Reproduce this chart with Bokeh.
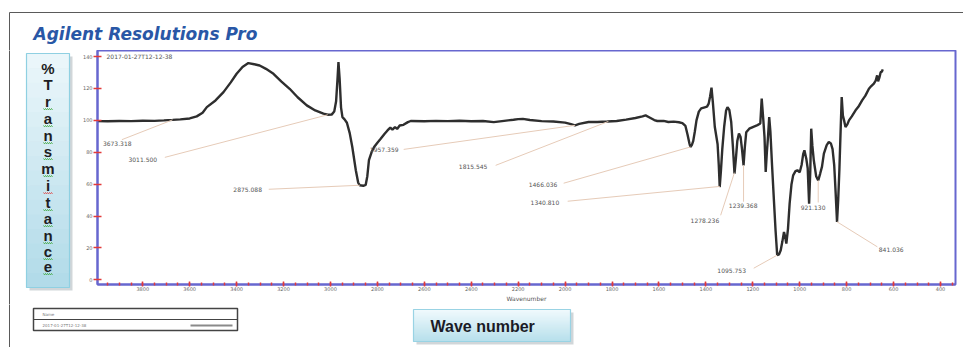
import numpy as np
from bokeh.plotting import figure
from bokeh.layouts import column, row
from bokeh.models import Range1d, Label, ColumnDataSource, FixedTicker
from bokeh.core.properties import value
from bokeh.embed import file_html
from bokeh.resources import INLINE

# FTIR spectrum: wavenumber (cm-1) and % transmittance
wavenumber = [
    3993, 3950, 3900, 3850, 3800, 3750, 3710, 3673, 3640, 3600, 3570, 3545, 3527, 3490,
    3456, 3425, 3400, 3375, 3350, 3325, 3302, 3275, 3243, 3210, 3174, 3140, 3101, 3065,
    3030, 3011.5, 2995, 2984, 2976, 2970, 2966, 2961, 2955, 2949, 2940, 2930, 2918, 2907,
    2892, 2882, 2875, 2860, 2850, 2843, 2836, 2825, 2814, 2800, 2786, 2770, 2757, 2745,
    2736, 2725, 2716, 2705, 2689, 2670, 2658, 2600, 2550, 2500, 2450, 2400, 2350, 2304,
    2260, 2220, 2200, 2180, 2150, 2100, 2050, 2000, 1975, 1957.4, 1940, 1900, 1863, 1820,
    1780, 1740, 1700, 1670, 1657, 1640, 1620, 1607, 1580, 1560, 1537, 1515, 1500, 1487,
    1478, 1470, 1466, 1460, 1454, 1447, 1440, 1430, 1420, 1405, 1395, 1388, 1382, 1376,
    1370, 1362, 1356, 1350, 1345, 1341, 1336, 1330, 1322, 1314, 1308, 1300, 1292, 1285,
    1278, 1272, 1266, 1259, 1252, 1246, 1239.4, 1234, 1228, 1215, 1200, 1180, 1168, 1162,
    1155, 1150, 1145, 1140, 1135, 1130, 1125, 1118, 1110, 1103, 1096, 1088, 1081, 1074,
    1067, 1062, 1057, 1050, 1043, 1035, 1028, 1018, 1010, 1000, 992, 985, 980, 972,
    966, 960, 955, 951, 946, 940, 930, 921.1, 913, 905, 897, 885, 876, 867,
    860, 853, 847, 841, 836, 831, 826, 821, 816, 811, 805, 797, 790, 778,
    762, 750, 734, 720, 705, 695, 684, 676, 670, 666, 660, 655, 650, 646,
]
transmittance = [
    99.5, 99.4, 99.6, 99.5, 99.8, 99.7, 100.0, 100.3, 100.6, 101.2, 102.5, 104.8, 108.3, 112.5,
    117.7, 123.8, 129.2, 133.5, 135.9, 135.2, 134.4, 132.3, 129.2, 124.5, 119.8, 114.5, 109.4, 106.2,
    104.2, 103.5, 103.6, 105.5, 112.0, 126.0, 136.5, 126.0, 108.0, 102.0, 100.6, 98.5, 92.0, 83.3,
    68.7, 61.0, 59.3, 59.0, 59.5, 65.0, 75.0, 80.0, 83.3, 86.0, 88.5, 91.5, 93.7, 95.5,
    94.2, 95.8, 94.6, 96.8, 97.2, 98.9, 99.6, 99.4, 99.7, 99.5, 99.8, 99.4, 99.6, 98.9,
    99.7, 100.4, 100.8, 100.9, 100.2, 99.5, 99.3, 98.6, 97.6, 96.9, 97.8, 99.0, 99.0, 99.3,
    99.6, 100.5, 101.5, 102.5, 103.1, 101.8, 100.2, 99.6, 99.7, 99.0, 99.2, 98.8, 98.3, 96.5,
    91.0, 85.5, 83.3, 84.5, 87.0, 93.0, 100.0, 105.5, 107.5, 108.2, 108.6, 110.5, 115.0, 120.5,
    111.0, 96.0, 90.5, 85.0, 72.0, 58.2, 68.0, 82.0, 96.0, 106.0, 108.3, 106.5, 99.0, 84.0,
    66.6, 76.0, 87.0, 91.7, 89.5, 82.0, 71.8, 83.0, 92.5, 94.8, 95.8, 97.0, 98.0, 113.6,
    100.0, 89.5, 67.6, 80.0, 90.0, 102.1, 93.0, 72.0, 50.0, 31.1, 15.5, 16.0, 18.6, 24.0,
    30.0, 27.0, 22.8, 32.0, 47.8, 60.0, 65.5, 68.2, 68.7, 67.5, 72.0, 79.0, 81.2, 76.0,
    70.0, 47.8, 68.0, 94.8, 84.0, 75.0, 65.0, 62.4, 66.5, 71.0, 79.1, 84.5, 86.4, 85.5,
    82.0, 72.0, 55.0, 36.3, 50.0, 68.7, 92.0, 114.6, 103.0, 100.0, 95.8, 97.5, 100.0, 102.5,
    106.3, 108.5, 112.5, 115.5, 119.8, 121.5, 123.0, 125.0, 128.2, 124.5, 127.0, 130.2, 130.5, 132.0,
]

# Picked peaks
peak_wavenumbers = [3673.318, 3011.500, 2875.088, 1957.359, 1815.545, 1466.036,
                    1340.810, 1278.236, 1239.368, 1095.753, 921.130, 841.036]
peak_labels = ["3673.318", "3011.500", "2875.088", "1957.359", "1815.545", "1466.036",
               "1340.810", "1278.236", "1239.368", "1095.753", "921.130", "841.036"]

x_ticks = [3800, 3600, 3400, 3200, 3000, 2800, 2600, 2400, 2200, 2000,
           1800, 1600, 1400, 1200, 1000, 800, 600, 400]
y_ticks = [0, 20, 40, 60, 80, 100, 120, 140]

# where each peak label sits, and where its leader line starts (data units)
label_x = [3970, 3861, 3414, 2832, 2453, 2155, 2147, 1465, 1302, 1351, 996, 663]
label_y = [85.6, 75.4, 56.8, 81.7, 70.8, 59.9, 48.8, 37.4, 46.8, 6.1, 45.3, 19.0]
lead_x = [3889, 3706, 3263, 2688, 2296, 2006, 1989, 1337, 1239.368, 1196, 921.130, 669]
lead_y = [87.9, 76.8, 56.8, 81.8, 71.8, 60.6, 49.3, 40.5, 49.0, 7.3, 48.5, 20.7]

W, H = 963, 347
TOP_H = 50          # strip holding the heading
LEFT_W = 79         # strip holding the vertical caption
MID_H = 254         # height of the spectrum panel
BOT_H = H - TOP_H - MID_H
BLUE = "#6767cf"
RED = "#e23a3a"


# ---------------------------------------------------------------- spectrum panel
p = figure(width=W - LEFT_W, height=MID_H, x_range=Range1d(3993, 336),
           y_range=Range1d(-2.9, 143.8), output_backend="svg", toolbar_location=None,
           title=None, min_border_left=15, min_border_right=8, min_border_top=0,
           min_border_bottom=20)
p.frame_align = False
p.background_fill_color = "white"
p.border_fill_color = "white"
p.grid.visible = False
p.outline_line_color = BLUE
p.outline_line_width = 2

p.xaxis.ticker = FixedTicker(ticks=x_ticks, minor_ticks=list(range(350, 4000, 50)))
p.yaxis.ticker = FixedTicker(ticks=y_ticks)
for ax in (p.xaxis, p.yaxis):
    ax.axis_line_color = BLUE
    ax.axis_line_width = 2
    ax.major_tick_line_color = RED
    ax.major_tick_line_width = 1.5
    ax.major_label_text_font = "DejaVu Sans"
    ax.major_label_text_font_size = "5px"
    ax.major_label_text_color = "#666666"
p.xaxis.major_tick_in = 3
p.xaxis.major_tick_out = 2
p.xaxis.minor_tick_line_color = RED
p.xaxis.minor_tick_line_width = 1.5
p.xaxis.minor_tick_in = 2
p.xaxis.minor_tick_out = 1
p.xaxis.major_label_standoff = 0
p.xaxis.axis_label = "Wavenumber"
p.xaxis.axis_label_text_font = "DejaVu Sans"
p.xaxis.axis_label_text_font_size = "6px"
p.xaxis.axis_label_text_font_style = "normal"
p.xaxis.axis_label_text_color = "#555555"
p.xaxis.axis_label_standoff = 1
p.yaxis.major_tick_in = 4
p.yaxis.major_tick_out = 4
p.yaxis.minor_tick_line_color = None
p.yaxis.major_label_standoff = 1

p.line(wavenumber, transmittance, line_color="#2e2e2e", line_width=2.4)

# peak labels with leader lines to the trace
wn_asc = np.array(wavenumber)[::-1]
tr_asc = np.array(transmittance)[::-1]
peak_t = np.interp(peak_wavenumbers, wn_asc, tr_asc)
leaders = ColumnDataSource(dict(x0=lead_x, y0=lead_y, x1=peak_wavenumbers, y1=list(peak_t)))
p.segment("x0", "y0", "x1", "y1", source=leaders, line_color="#e6cbb8", line_width=1)
texts = ColumnDataSource(dict(x=label_x, y=label_y, t=peak_labels))
p.text("x", "y", "t", source=texts, text_font=value("DejaVu Sans"), text_font_size="6px",
       text_color="#555555", text_align="left", text_baseline="middle")
p.add_layout(Label(x=106 - LEFT_W, y=6, x_units="canvas", y_units="canvas",
                   text="2017-01-27T12-12-38", text_font="DejaVu Sans", text_font_size="6px",
                   text_color="#555555", text_baseline="middle"))


# ---------------------------------------------------------------- decoration strips
def strip(w, h, ox, oy):
    """A blank panel whose data units are page pixels (origin top-left of the page)."""
    f = figure(width=w, height=h, x_range=Range1d(ox, ox + w), y_range=Range1d(oy + h, oy),
               x_axis_type=None, y_axis_type=None, output_backend="svg", title=None,
               toolbar_location=None, min_border=0, min_border_left=0, min_border_right=0,
               min_border_top=0, min_border_bottom=0)
    f.frame_align = False
    f.outline_line_color = None
    f.background_fill_color = "white"
    f.border_fill_color = "white"
    return f


def gradient(f, l, t, r, b, c0, c1, n=16):
    c0 = np.array([int(c0[i:i + 2], 16) for i in (1, 3, 5)])
    c1 = np.array([int(c1[i:i + 2], 16) for i in (1, 3, 5)])
    edges = np.linspace(t, b, n + 1)
    cols = ["#%02x%02x%02x" % tuple(int(round(v)) for v in c0 + (c1 - c0) * i / (n - 1))
            for i in range(n)]
    f.quad(left=l, right=r, top=list(edges[:-1]), bottom=list(edges[1:] + 0.5),
           fill_color=cols, line_color=None)


def button(f, l, t, r, b, c0, c1, edge):
    f.quad(left=l + 3, right=r + 3, top=t + 3, bottom=b + 3, fill_color="#98a4ab",
           fill_alpha=0.45, line_color=None)
    gradient(f, l, t, r, b, c0, c1)
    f.quad(left=l, right=r, top=t, bottom=b, fill_color=None, line_color=edge, line_width=1.2)


def squiggle(f, xc, yb, color, half=4.5):
    xs = np.linspace(xc - half, xc + half, 10)
    ys = yb + np.where(np.arange(10) % 2 == 0, 0.0, 1.3)
    f.line(list(xs), list(ys), line_color=color, line_width=1, line_alpha=0.9)


FRAME = "#5a5a5a"

top = strip(W, TOP_H, 0, 0)
top.segment(x0=9, y0=12, x1=W + 2, y1=12, line_color=FRAME, line_width=1)
top.segment(x0=9, y0=12, x1=9, y1=TOP_H + 1, line_color=FRAME, line_width=1)
top.text(x=[33], y=[33.5], text=["Agilent Resolutions Pro"], text_font=value("DejaVu Sans"),
         text_font_size="17px", text_font_style="bold italic", text_color="#2957a6",
         text_baseline="middle")

left = strip(LEFT_W, MID_H, 0, TOP_H)
left.segment(x0=9, y0=TOP_H - 1, x1=9, y1=TOP_H + MID_H + 1, line_color=FRAME, line_width=1)
button(left, 26, 53, 69, 287, "#eaf6fa", "#b2dbe9", "#8fd0e2")
caption = list("%Transmitance")
caption_y = [68, 84, 101, 118, 135, 151, 168, 185, 202, 218, 235, 251, 266]
left.text(x=[47.5] * len(caption), y=caption_y, text=caption,
          text_font=value("Liberation Sans"), text_font_size="15px", text_font_style="bold",
          text_color="#1e1e24", text_align="center", text_baseline="middle")
for ch, yy in zip(caption[2:], caption_y[2:]):
    squiggle(left, 47.5, yy + 7, "#e04848" if ch == "i" else "#3ea83e")

bottom = strip(W, BOT_H, 0, TOP_H + MID_H)
bottom.segment(x0=9, y0=TOP_H + MID_H - 1, x1=9, y1=H + 2, line_color=FRAME, line_width=1)
button(bottom, 413, 309, 570, 341, "#eff9fc", "#b8e0ec", "#99d3e4")
bottom.text(x=[430], y=[325.5], text=["Wave number"], text_font=value("Liberation Sans"),
            text_font_size="16px", text_font_style="bold", text_color="#1b1b26",
            text_baseline="middle")
# legend block: name row and trace row
bottom.quad(left=33, right=237, top=308, bottom=330, fill_color=None,
            line_color="#444444", line_width=1.5)
bottom.segment(x0=33, y0=319, x1=237, y1=319, line_color="#444444", line_width=1.2)
bottom.text(x=[42, 42], y=[313.5, 324.5], text=["Name", "2017-01-27T12-12-38"],
            text_font=value("DejaVu Sans"), text_font_size="4px", text_color="#777777",
            text_baseline="middle")
bottom.segment(x0=190, y0=325, x1=232, y1=325, line_color="#8a8a8a", line_width=2)

layout = column(top, row(left, p, spacing=0), bottom, spacing=0)
open("out.html", "w").write(file_html(layout, INLINE))
